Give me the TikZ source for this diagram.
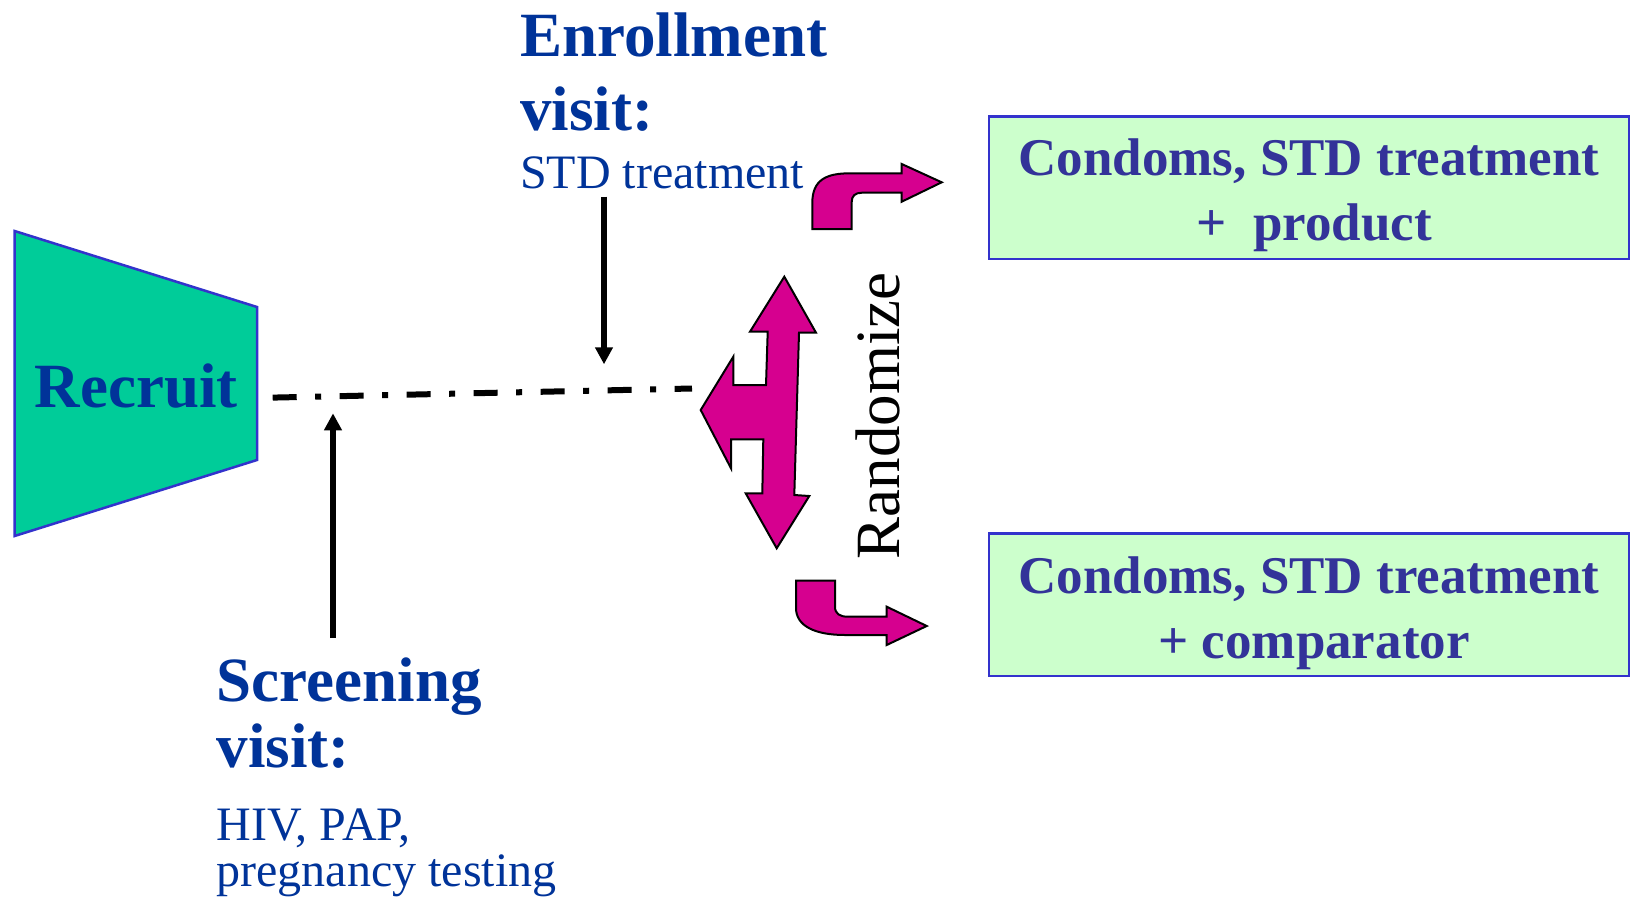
\documentclass[tikz,border=0pt]{standalone}
\usepackage{fontspec}
\setmainfont{Liberation Serif}
\usetikzlibrary{arrows.meta}
\definecolor{headblue}{HTML}{003399}
\definecolor{boxtext}{HTML}{333399}
\definecolor{boxline}{HTML}{3333CC}
\definecolor{boxfill}{HTML}{CCFFCC}
\definecolor{teal}{HTML}{00CC99}
\definecolor{magentaarrow}{RGB}{214,0,143}
\tikzset{
  heading/.style={anchor=base west, inner sep=0pt, text=headblue, font=\fontsize{63}{72}\selectfont\bfseries},
  plain/.style={anchor=base west, inner sep=0pt, text=headblue, font=\fontsize{48}{56}\selectfont},
  boxline/.style={anchor=base, inner sep=0pt, text=boxtext, font=\fontsize{53}{62}\selectfont\bfseries},
  groupbox/.style={draw=boxline, line width=2.5pt, fill=boxfill, minimum width=640pt, minimum height=142.6pt, inner sep=0pt},
  magshape/.style={fill=magentaarrow, draw=black, line width=2pt, line join=miter},
  blackarrow/.style={line width=5.5pt, -{Triangle[width=17pt,length=17pt]}},
}
\begin{document}
\begin{tikzpicture}[x=1pt,y=-1pt]
\useasboundingbox (0,0) rectangle (1632,897);
% Recruit trapezoid
\draw[fill=teal, draw=boxline, line width=2.5pt] (14.6,231) -- (257,307) -- (257,460) -- (14.6,536) -- cycle;
\node[anchor=base, inner sep=0pt, text=headblue, font=\fontsize{63}{72}\selectfont\bfseries] (recruit) at (136.3,407) {Recruit};
% dash-dot timeline
\coordinate (lineStart) at (272.7,397.6);
\coordinate (lineEnd) at (692,388.5);
\draw[line width=6pt, dash pattern=on 24pt off 18.5pt on 6pt off 18.5pt] (lineStart) -- (lineEnd);
% Enrollment text
\node[heading] (enr1) at (520,56.5) {Enrollment};
\node[heading] (enr2) at (520,130) {visit:};
\node[plain] (enr3) at (520,188.5) {STD treatment};
% Screening text
\node[heading] (scr1) at (216.5,701.5) {Screening};
\node[heading] (scr2) at (216.5,767.7) {visit:};
\node[plain] (scr3) at (216.5,840) {HIV, PAP,};
\node[plain] (scr4) at (216.5,886) {pregnancy testing};
% arrows
\coordinate (upStart) at (333,638);
\coordinate (upEnd) at (333,413.3);
\draw[blackarrow] (upStart) -- (upEnd);
\coordinate (downStart) at (604,196.7);
\coordinate (downEnd) at (604,364.3);
\draw[blackarrow] (downStart) -- (downEnd);
% three-way magenta arrow
\draw[magshape] (784.3,276.7) -- (816,332.7) -- (799,332.7) -- (794.3,495) -- (809.3,496)
  -- (776.7,548.3) -- (745.7,493.3) -- (762.3,493.3) -- (763.3,439.3) -- (731,439.3)
  -- (731,468.3) -- (700.7,410) -- (733.3,356.7) -- (733.3,385) -- (766,385)
  -- (767.7,331.7) -- (750,331.7) -- cycle;
% top bent arrow
\draw[magshape] (812.3,229) -- (812.3,203) .. controls (812.3,180) and (826,173.3) .. (850,173.3)
  -- (901.7,173.3) -- (901.7,164) -- (941.7,182.3) -- (901.7,201.7) -- (901.7,192.7)
  -- (862,192.7) .. controls (855,192.7) and (851.7,196) .. (851.7,202) -- (851.7,229) -- cycle;
% bottom bent arrow
\draw[magshape] (796,580.7) -- (835,580.7) -- (835,606.7) .. controls (835,614) and (840,616.7) .. (848,616.7)
  -- (886.7,616.7) -- (886.7,606.7) -- (926.7,626) -- (886.7,645) -- (886.7,635)
  -- (845,635) .. controls (815,635) and (796,626) .. (796,608) -- cycle;
% Randomize
\node[anchor=base, inner sep=0pt, rotate=90, font=\fontsize{63}{72}\selectfont] (rand) at (899.3,415.9) {Randomize};
% boxes
\node[groupbox] (boxA) at (1308.9,187.9) {};
\node[boxline] (boxA1) at (1308.9,175) {Condoms, STD treatment};
\node[boxline] (boxA2) at (1314,240) {+\ \ product};
\node[groupbox] (boxB) at (1308.9,604.8) {};
\node[boxline] (boxB1) at (1308.9,593) {Condoms, STD treatment};
\node[boxline] (boxB2) at (1314,658) {+ comparator};
\end{tikzpicture}
\end{document}
